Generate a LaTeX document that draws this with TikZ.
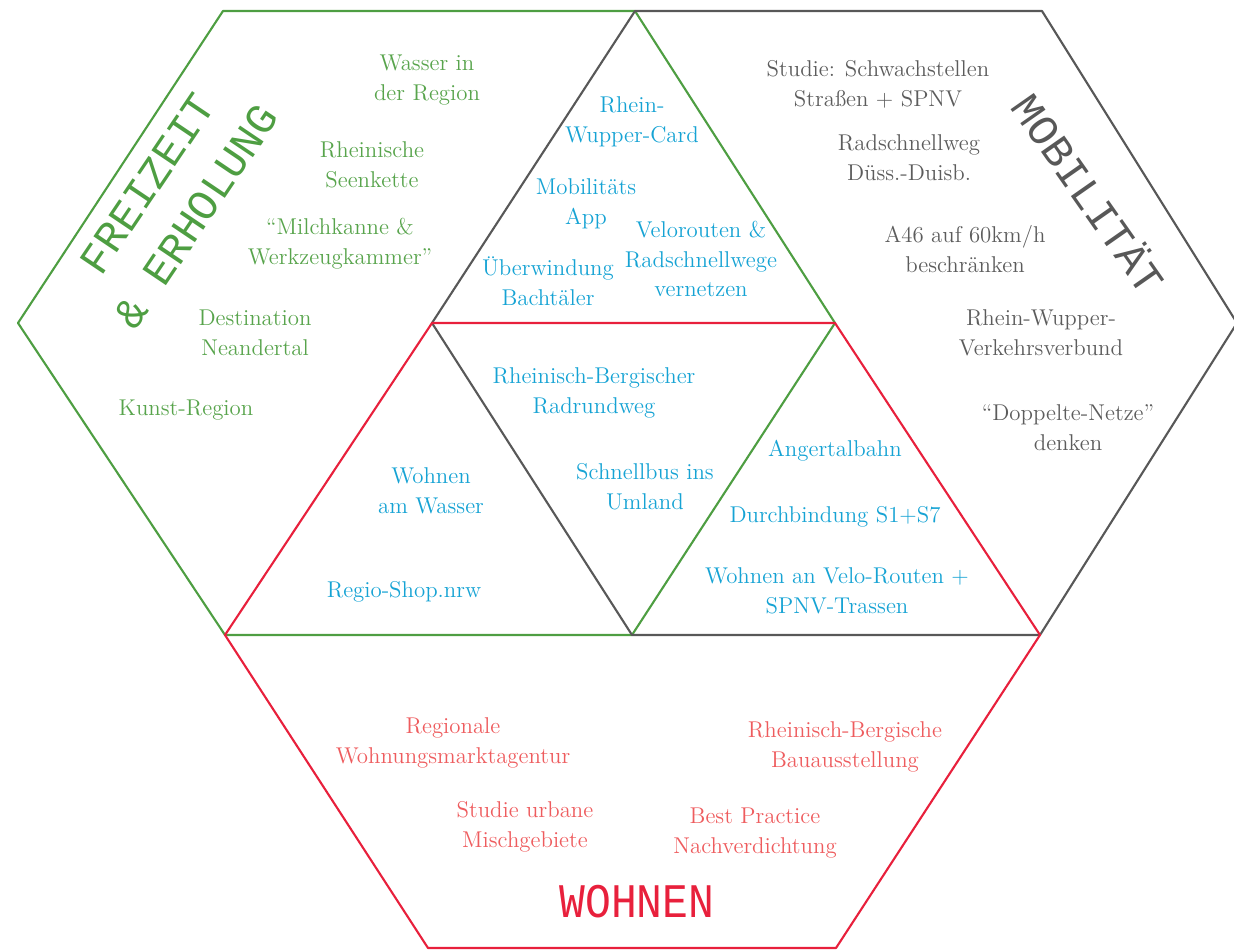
\documentclass[tikz,border=0pt]{standalone}
\usepackage{fontspec}
\newfontfamily\headfont{Liberation Mono}
\definecolor{greenline}{RGB}{78,158,66}
\definecolor{greentext}{RGB}{88,164,76}
\definecolor{greyline}{RGB}{88,88,88}
\definecolor{greytext}{RGB}{92,92,92}
\definecolor{redline}{RGB}{232,32,60}
\definecolor{redtext}{RGB}{238,92,94}
\definecolor{cyantext}{RGB}{22,163,212}
\begin{document}
\begin{tikzpicture}[x=0.02cm,y=-0.02cm,
  edge/.style={line width=1.2pt, line cap=round, line join=round},
  item/.style={align=center, inner sep=0pt, font=\fontsize{13}{17}\selectfont},
  gitem/.style={item, text=greentext},
  mitem/.style={item, text=greytext},
  ritem/.style={item, text=redtext},
  citem/.style={item, text=cyantext},
  heading/.style={align=center, inner sep=0pt, font=\fontsize{24.5}{33.5}\selectfont\headfont}]
\useasboundingbox (0,0) rectangle (1234,950);

% lattice points of the three hexagons
\coordinate (p1) at (223,11);
\coordinate (p2) at (635,11);
\coordinate (p3) at (1042,11);
\coordinate (p4) at (18,323);
\coordinate (a) at (432,323);
\coordinate (b) at (835,323);
\coordinate (p5) at (1237,323);
\coordinate (p6) at (225,635);
\coordinate (c) at (632,635);
\coordinate (p7) at (1040,635);
\coordinate (p8) at (428,948);
\coordinate (p9) at (836,948);

% Freizeit & Erholung (green)
\draw[edge, greenline] (p2) -- (p1) -- (p4) -- (p6) -- (c) -- (b) -- (p2);
% Mobilitaet (grey)
\draw[edge, greyline] (p2) -- (p3) -- (p5) -- (p7) -- (c) -- (a) -- (p2);
% Wohnen (red)
\draw[edge, redline] (a) -- (b) -- (p7) -- (p9) -- (p8) -- (p6) -- (a);

% headings
\node[heading, text=greenline, rotate=56] (freizeit) at (172,200) {FREIZEIT\\\& ERHOLUNG};
\node[heading, text=greyline, rotate=-55] (mobil) at (1090,193) {MOBILITÄT};
\node[heading, text=redline, yscale=1.12] (wohnen) at (637,902) {WOHNEN};

% green items
\node[gitem] (g1) at (427,80) {Wasser in\\der Region};
\node[gitem] (g2) at (372,165) {Rheinische\\Seenkette};
\node[gitem] (g3) at (340,244) {“Milchkanne \&\\Werkzeugkammer”};
\node[gitem] (g4) at (255,333) {Destination\\Neandertal};
\node[gitem] (g5) at (186,410) {Kunst-Region};

% grey items
\node[mitem] (m1) at (878,84) {Studie: Schwachstellen\\Straßen + SPNV};
\node[mitem] (m2) at (909,158) {Radschnellweg\\Düss.-Duisb.};
\node[mitem] (m3) at (965,249) {A46 auf 60km/h\\beschränken};
\node[mitem] (m4) at (1041,333) {Rhein-Wupper-\\Verkehrsverbund};
\node[mitem] (m5) at (1068,428) {“Doppelte-Netze”\\denken};

% cyan items
\node[citem] (c1) at (632,122) {Rhein-\\Wupper-Card};
\node[citem] (c2) at (586,204) {Mobilitäts\\App};
\node[citem] (c3) at (548,281) {Überwindung\\Bachtäler};
\node[citem] (c4) at (701,259) {Velorouten \&\\Radschnellwege\\vernetzen};
\node[citem] (c5) at (594,393) {Rheinisch-Bergischer\\Radrundweg};
\node[citem] (c6) at (431,491) {Wohnen\\am Wasser};
\node[citem] (c7) at (645,487) {Schnellbus ins\\Umland};
\node[citem] (c8) at (835,451) {Angertalbahn};
\node[citem] (c9) at (835,517) {Durchbindung S1+S7};
\node[citem] (c10) at (837,591) {Wohnen an Velo-Routen +\\SPNV-Trassen};
\node[citem] (c11) at (404,592) {Regio-Shop.nrw};

% red items
\node[ritem] (r1) at (453,743) {Regionale\\Wohnungsmarktagentur};
\node[ritem] (r2) at (845,747) {Rheinisch-Bergische\\Bauausstellung};
\node[ritem] (r3) at (525,827) {Studie urbane\\Mischgebiete};
\node[ritem] (r4) at (755,833) {Best Practice\\Nachverdichtung};
\end{tikzpicture}
\end{document}
